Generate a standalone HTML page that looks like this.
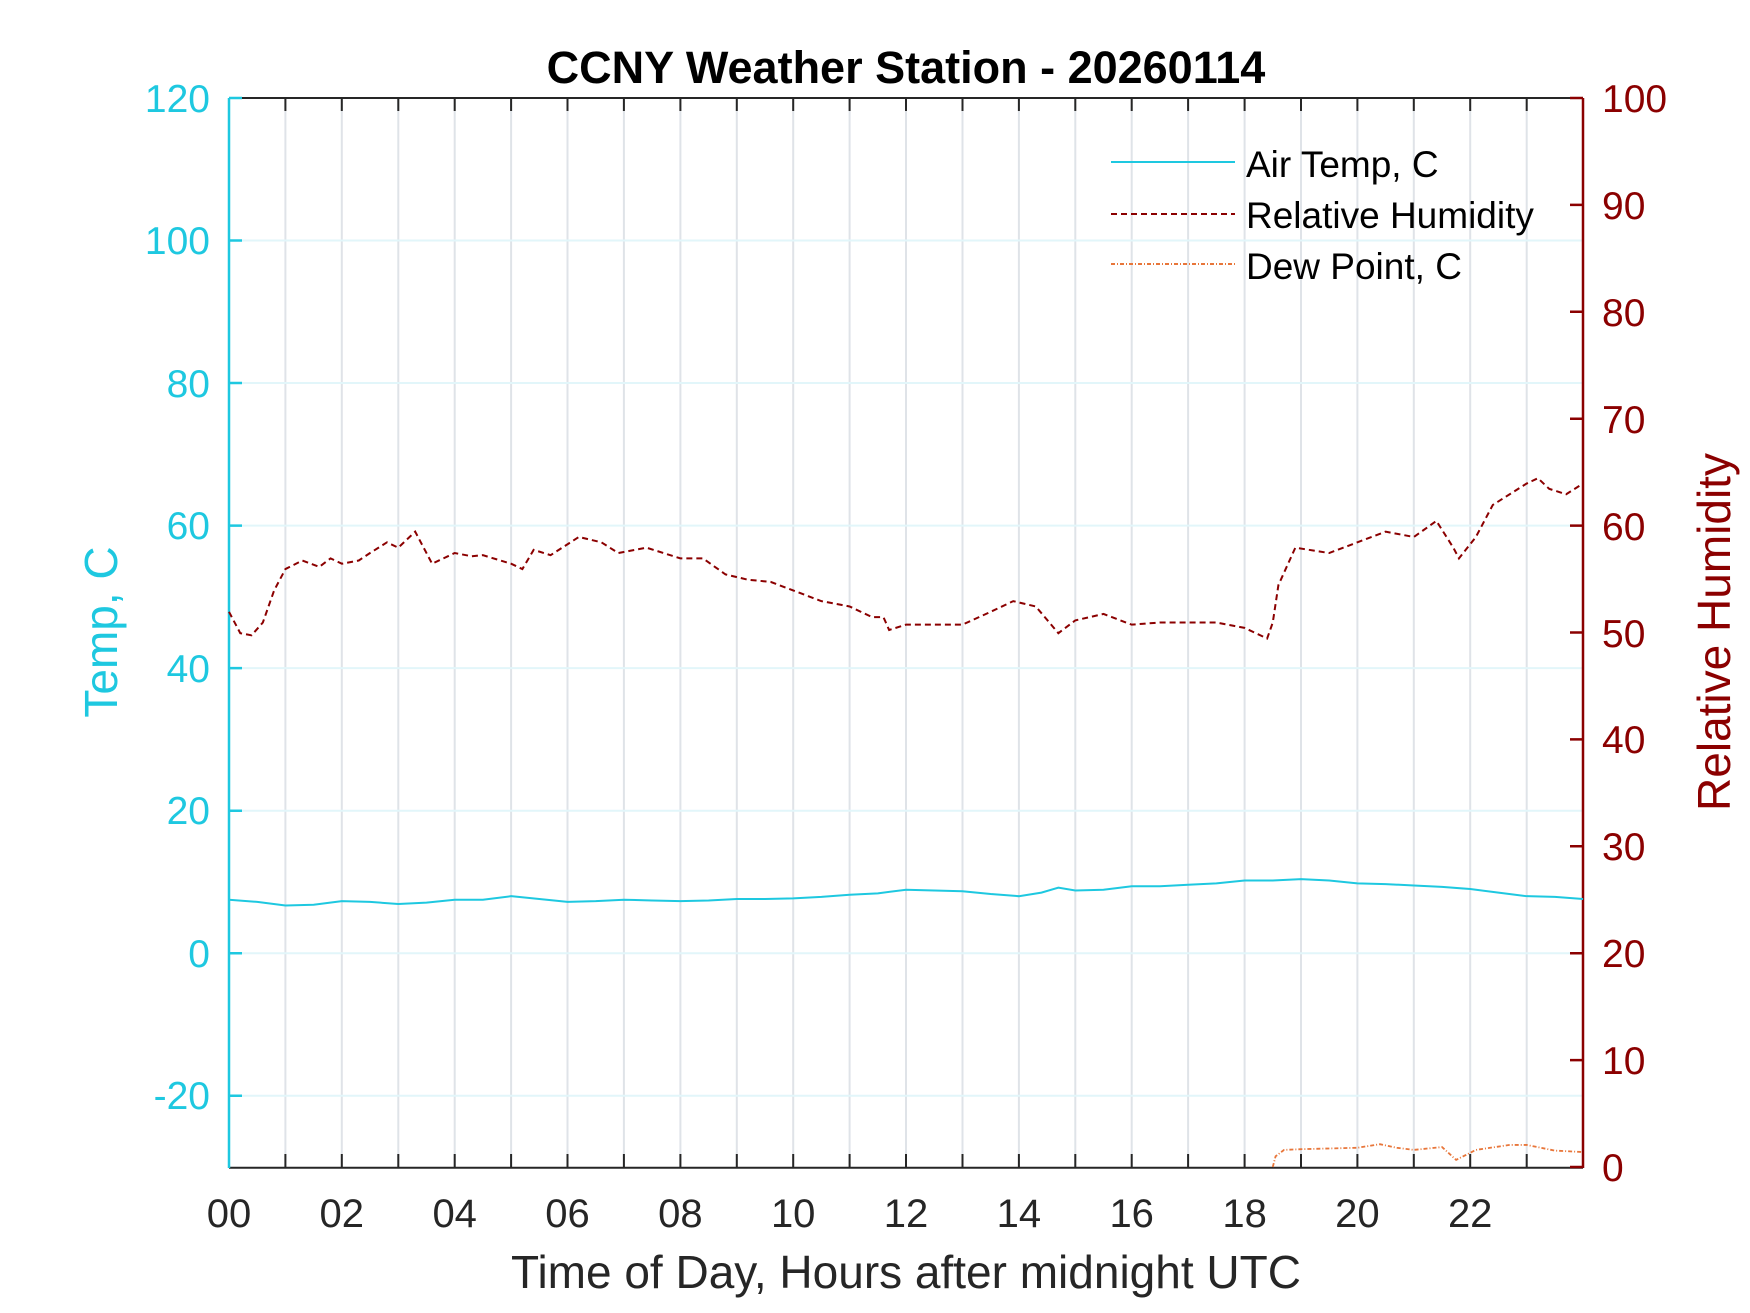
<!DOCTYPE html>
<html><head><style>body{margin:0;background:#fff}svg{display:block}</style></head><body>
<svg width="1750" height="1313" xmlns="http://www.w3.org/2000/svg" font-family="Liberation Sans, Arial, sans-serif">
<rect width="1750" height="1313" fill="#fff"/>
<g stroke="#dfe3e8" stroke-width="2">
<line x1="285.4" y1="98" x2="285.4" y2="1167"/><line x1="341.8" y1="98" x2="341.8" y2="1167"/><line x1="398.3" y1="98" x2="398.3" y2="1167"/><line x1="454.7" y1="98" x2="454.7" y2="1167"/><line x1="511.1" y1="98" x2="511.1" y2="1167"/><line x1="567.5" y1="98" x2="567.5" y2="1167"/><line x1="623.9" y1="98" x2="623.9" y2="1167"/><line x1="680.4" y1="98" x2="680.4" y2="1167"/><line x1="736.8" y1="98" x2="736.8" y2="1167"/><line x1="793.2" y1="98" x2="793.2" y2="1167"/><line x1="849.6" y1="98" x2="849.6" y2="1167"/><line x1="906" y1="98" x2="906" y2="1167"/><line x1="962.5" y1="98" x2="962.5" y2="1167"/><line x1="1018.9" y1="98" x2="1018.9" y2="1167"/><line x1="1075.3" y1="98" x2="1075.3" y2="1167"/><line x1="1131.7" y1="98" x2="1131.7" y2="1167"/><line x1="1188.1" y1="98" x2="1188.1" y2="1167"/><line x1="1244.6" y1="98" x2="1244.6" y2="1167"/><line x1="1301" y1="98" x2="1301" y2="1167"/><line x1="1357.4" y1="98" x2="1357.4" y2="1167"/><line x1="1413.8" y1="98" x2="1413.8" y2="1167"/><line x1="1470.2" y1="98" x2="1470.2" y2="1167"/><line x1="1526.7" y1="98" x2="1526.7" y2="1167"/>
</g>
<g stroke="#e2f6fa" stroke-width="2">
<line x1="229" y1="240.5" x2="1583" y2="240.5"/><line x1="229" y1="383" x2="1583" y2="383"/><line x1="229" y1="525.6" x2="1583" y2="525.6"/><line x1="229" y1="668.1" x2="1583" y2="668.1"/><line x1="229" y1="810.7" x2="1583" y2="810.7"/><line x1="229" y1="953.2" x2="1583" y2="953.2"/><line x1="229" y1="1095.7" x2="1583" y2="1095.7"/>
</g>
<g stroke="#262626" stroke-width="2">
<line x1="229" y1="98" x2="1583" y2="98"/><line x1="229" y1="1167.7" x2="1583" y2="1167.7"/>
<path d="M285.4 98v13M341.8 98v13M398.3 98v13M454.7 98v13M511.1 98v13M567.5 98v13M623.9 98v13M680.4 98v13M736.8 98v13M793.2 98v13M849.6 98v13M906 98v13M962.5 98v13M1018.9 98v13M1075.3 98v13M1131.7 98v13M1188.1 98v13M1244.6 98v13M1301 98v13M1357.4 98v13M1413.8 98v13M1470.2 98v13M1526.7 98v13"/>
<path d="M285.4 1167v-13M341.8 1167v-13M398.3 1167v-13M454.7 1167v-13M511.1 1167v-13M567.5 1167v-13M623.9 1167v-13M680.4 1167v-13M736.8 1167v-13M793.2 1167v-13M849.6 1167v-13M906 1167v-13M962.5 1167v-13M1018.9 1167v-13M1075.3 1167v-13M1131.7 1167v-13M1188.1 1167v-13M1244.6 1167v-13M1301 1167v-13M1357.4 1167v-13M1413.8 1167v-13M1470.2 1167v-13M1526.7 1167v-13"/>
</g>
<g stroke="#1ec8e0" stroke-width="2.5">
<line x1="229" y1="98" x2="229" y2="1168"/>
<path d="M229 98h13M229 240.5h13M229 383h13M229 525.6h13M229 668.1h13M229 810.7h13M229 953.2h13M229 1095.7h13"/>
</g>
<g fill="#1ec8e0" font-size="39" text-anchor="end">
<text x="210" y="112">120</text><text x="210" y="254">100</text><text x="210" y="397">80</text><text x="210" y="539">60</text><text x="210" y="682">40</text><text x="210" y="824">20</text><text x="210" y="967">0</text><text x="210" y="1109">-20</text>
</g>
<text transform="translate(117,632) rotate(-90)" fill="#1ec8e0" font-size="46" text-anchor="middle">Temp, C</text>
<g stroke="#8b0000" stroke-width="2.5">
<line x1="1583" y1="98" x2="1583" y2="1168"/>
<path d="M1583 98h-13M1583 204.9h-13M1583 311.8h-13M1583 418.7h-13M1583 525.6h-13M1583 632.5h-13M1583 739.4h-13M1583 846.3h-13M1583 953.2h-13M1583 1060.1h-13M1583 1167h-13"/>
</g>
<g fill="#8b0000" font-size="39">
<text x="1602" y="112">100</text><text x="1602" y="219">90</text><text x="1602" y="326">80</text><text x="1602" y="433">70</text><text x="1602" y="540">60</text><text x="1602" y="647">50</text><text x="1602" y="753">40</text><text x="1602" y="860">30</text><text x="1602" y="967">20</text><text x="1602" y="1074">10</text><text x="1602" y="1181">0</text>
</g>
<text transform="translate(1730,632) rotate(-90)" fill="#8b0000" font-size="46" text-anchor="middle">Relative Humidity</text>
<g fill="#262626" font-size="40" text-anchor="middle">
<text x="229" y="1227">00</text><text x="341.8" y="1227">02</text><text x="454.7" y="1227">04</text><text x="567.5" y="1227">06</text><text x="680.4" y="1227">08</text><text x="793.2" y="1227">10</text><text x="906" y="1227">12</text><text x="1018.9" y="1227">14</text><text x="1131.7" y="1227">16</text><text x="1244.6" y="1227">18</text><text x="1357.4" y="1227">20</text><text x="1470.2" y="1227">22</text>
</g>
<text x="906" y="1288" fill="#262626" font-size="46" text-anchor="middle">Time of Day, Hours after midnight UTC</text>
<text x="906" y="83" fill="#000" font-size="45" font-weight="bold" text-anchor="middle">CCNY Weather Station - 20260114</text>
<g transform="translate(229,953.2) scale(56.42,-7.127)" fill="none">
<polyline vector-effect="non-scaling-stroke" stroke="#1ec8e0" stroke-width="2" points="0,7.5 0.5,7.2 1,6.7 1.5,6.8 2,7.3 2.5,7.2 3,6.9 3.5,7.1 4,7.5 4.5,7.5 5,8 5.5,7.6 6,7.2 6.5,7.3 7,7.5 7.5,7.4 8,7.3 8.5,7.4 9,7.6 9.5,7.6 10,7.7 10.5,7.9 11,8.2 11.5,8.4 12,8.9 12.5,8.8 13,8.7 13.5,8.3 14,8 14.4,8.5 14.7,9.2 15,8.8 15.5,8.9 16,9.4 16.5,9.4 17,9.6 17.5,9.8 18,10.2 18.5,10.2 19,10.4 19.5,10.2 20,9.8 20.5,9.7 21,9.5 21.5,9.3 22,9 22.5,8.5 23,8 23.5,7.9 24,7.6"/>
<polyline vector-effect="non-scaling-stroke" stroke="#e8763a" stroke-width="1.8" stroke-dasharray="4 2 1 2" points="18.5,-30 18.55,-28.5 18.7,-27.6 19,-27.5 19.5,-27.4 20,-27.3 20.4,-26.8 20.7,-27.3 21,-27.6 21.5,-27.2 21.75,-29 22.1,-27.6 22.7,-26.9 23,-26.9 23.5,-27.7 24,-27.9"/>
</g>
<g transform="translate(229,1167.7) scale(56.42,-10.69)" fill="none">
<polyline vector-effect="non-scaling-stroke" stroke="#8b0000" stroke-width="2" stroke-dasharray="6 4" points="0,52 0.2,50 0.4,49.8 0.6,51 0.8,54 1,56 1.3,56.8 1.6,56.2 1.8,57 2,56.5 2.3,56.8 2.5,57.5 2.8,58.5 3,58 3.3,59.5 3.6,56.5 4,57.5 4.3,57.2 4.5,57.3 5,56.5 5.2,56 5.4,57.8 5.7,57.3 6.2,59 6.6,58.5 6.9,57.5 7.4,58 8,57 8.4,57 8.8,55.5 9.2,55 9.6,54.8 10,54 10.5,53 11,52.5 11.4,51.5 11.6,51.5 11.7,50.3 12,50.8 12.5,50.8 13,50.8 13.5,52 13.9,53 14.3,52.5 14.7,50 15,51.2 15.5,51.8 16,50.8 16.5,51 17,51 17.5,51 18,50.5 18.4,49.5 18.5,51 18.6,54.5 18.9,58 19.5,57.5 20,58.5 20.5,59.5 21,59 21.4,60.5 21.7,58 21.8,57 22.1,59 22.4,62 23,64 23.2,64.5 23.4,63.5 23.7,63 24,64"/>
</g>
<line x1="1111" y1="162" x2="1235" y2="162" stroke="#1ec8e0" stroke-width="2"/>
<line x1="1111" y1="214" x2="1235" y2="214" stroke="#8b0000" stroke-width="2" stroke-dasharray="6 4"/>
<line x1="1111" y1="264" x2="1235" y2="264" stroke="#e8763a" stroke-width="2" stroke-dasharray="4 2 1 2"/>
<g fill="#000" font-size="37">
<text x="1246" y="177">Air Temp, C</text><text x="1246" y="228">Relative Humidity</text><text x="1246" y="279">Dew Point, C</text>
</g>
</svg>
</body></html>
